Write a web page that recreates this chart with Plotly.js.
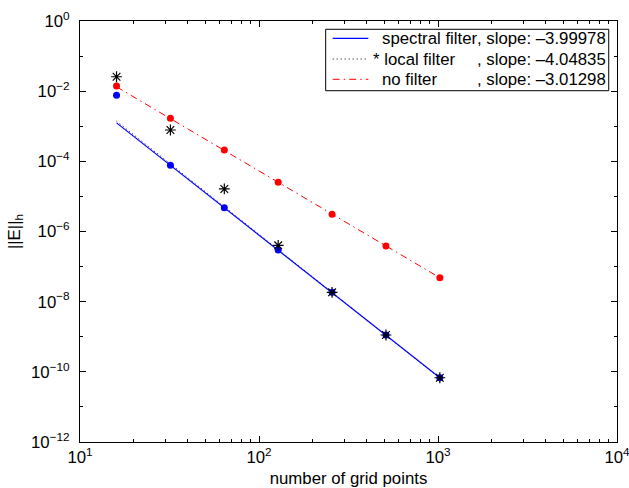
<!DOCTYPE html>
<html><head><meta charset="utf-8">
<script src="https://cdn.plot.ly/plotly-3.0.1.min.js"></script>
<style>html,body{margin:0;padding:0;background:#fff}#chart{width:629px;height:488px}</style>
</head><body><div id="chart"></div>
<script>
// ---- data ----
const gridPoints   = [16, 32, 64, 128, 256, 512, 1024];
const spectralErr  = [7.62e-3, 7.71e-5, 4.76e-6, 2.96e-7, 1.85e-8, 1.12e-9, 6.79e-11];
const localErr     = [2.58e-2, 7.82e-4, 1.63e-5, 4.04e-7, 1.85e-8, 1.12e-9, 6.79e-11];
const noFilterErr  = [1.40e-2, 1.68e-3, 2.10e-4, 2.52e-5, 3.09e-6, 3.85e-7, 4.81e-8];
const fitX         = [16, 1024];
const spectralFit  = [1.25e-3, 6.79e-11];
const localFit     = [1.40e-3, 6.60e-11];
const noFilterFit  = [1.33e-2, 4.81e-8];
const legendNames  = ['spectral filter', '* local filter', 'no filter'];
const legendSlopes = [', slope: \u20133.99978', ', slope: \u20134.04835', ', slope: \u20133.01298'];
const xTickVals = [10, 100, 1000, 10000];
const xTickText = ['10<sup>1</sup>', '10<sup>2</sup>', '10<sup>3</sup>', '10<sup>4</sup>'];
const yTickVals = [1, 1e-2, 1e-4, 1e-6, 1e-8, 1e-10, 1e-12];
const yTickText = ['10<sup>0</sup>', '10<sup>\u22122</sup>', '10<sup>\u22124</sup>', '10<sup>\u22126</sup>',
                   '10<sup>\u22128</sup>', '10<sup>\u221210</sup>', '10<sup>\u221212</sup>'];
const xMinor = [20,30,40,50,60,70,80,90,200,300,400,500,600,700,800,900,2000,3000,4000,5000,6000,7000,8000,9000];
const yMinor = [1e-1, 1e-3, 1e-5, 1e-7, 1e-9, 1e-11];

const FONT = 'Liberation Sans, Arial, Helvetica, sans-serif';
const FS = 16.8;

const traces = [
  {x: fitX, y: noFilterFit, mode: 'lines', line: {color: '#ff0000', width: 1, dash: '7px,4px,1.5px,4px'}, hoverinfo: 'skip'},
  {x: gridPoints, y: noFilterErr, mode: 'markers', marker: {color: '#ff0000', size: 7}},
  {x: fitX, y: localFit, mode: 'lines', line: {color: '#000000', width: 1, dash: '1px,3px'}},
  {x: fitX, y: spectralFit, mode: 'lines', line: {color: '#0000ff', width: 1.2}},
  {x: gridPoints, y: spectralErr, mode: 'markers', marker: {color: '#0000ff', size: 7}},
  {x: gridPoints, y: localErr, mode: 'markers', marker: {symbol: 'asterisk-open', color: '#000', size: 9, line: {color: '#000', width: 1.2}}}
];

// manual MATLAB-style legend (box, samples, text)
const L = {x0: 0.4575, x1: 0.9846, y0: 0.8344, y1: 0.9803};
const rowY = [0.9589, 0.9097, 0.8615];
const sampleX = [0.4706, 0.5369];
const shapes = [
  {type: 'rect', xref: 'paper', yref: 'paper', x0: L.x0, x1: L.x1, y0: L.y0, y1: L.y1,
   line: {color: '#000', width: 1}, fillcolor: '#fff', layer: 'above'},
  {type: 'line', xref: 'paper', yref: 'paper', x0: sampleX[0], x1: sampleX[1], y0: rowY[0], y1: rowY[0],
   line: {color: '#0000ff', width: 1.2}, layer: 'above'},
  {type: 'line', xref: 'paper', yref: 'paper', x0: sampleX[0], x1: sampleX[1], y0: rowY[1], y1: rowY[1],
   line: {color: '#000', width: 1, dash: '1px,3px'}, layer: 'above'},
  {type: 'line', xref: 'paper', yref: 'paper', x0: sampleX[0], x1: sampleX[1], y0: rowY[2], y1: rowY[2],
   line: {color: '#ff0000', width: 1, dash: '7px,4px,1.5px,4px'}, layer: 'above'}
];
const annotations = [];
const nameX = [0.5580, 0.5418, 0.5580];
for (let i = 0; i < 3; i++) {
  annotations.push({xref: 'paper', yref: 'paper', x: nameX[i], y: rowY[i], xanchor: 'left', yanchor: 'middle',
    text: legendNames[i], showarrow: false, font: {family: FONT, size: FS, color: '#000'}});
  annotations.push({xref: 'paper', yref: 'paper', x: 0.9830, y: rowY[i], xanchor: 'right', yanchor: 'middle',
    text: legendSlopes[i], showarrow: false, font: {family: FONT, size: FS, color: '#000'}});
}

const axisCommon = {
  type: 'log', showline: true, linecolor: '#000', linewidth: 1, mirror: 'allticks',
  ticks: 'inside', ticklen: 6, tickwidth: 1, tickcolor: '#000', showgrid: false, zeroline: false,
  ticklabeloverflow: 'allow',
  tickfont: {family: FONT, size: FS, color: '#000'}
};

const layout = {
  width: 629, height: 488,
  margin: {l: 80, r: 12, t: 21, b: 46},
  paper_bgcolor: '#fff', plot_bgcolor: '#fff',
  showlegend: false,
  font: {family: FONT, size: FS, color: '#000'},
  xaxis: Object.assign({}, axisCommon, {
    range: [1, 4], tickmode: 'array', tickvals: xTickVals, ticktext: xTickText,
    minor: {tickmode: 'array', tickvals: xMinor, ticks: 'inside', ticklen: 3, tickcolor: '#000', showgrid: false},
    title: {text: 'number of grid points', font: {family: FONT, size: FS, color: '#000'}, standoff: 6}
  }),
  yaxis: Object.assign({}, axisCommon, {
    range: [-12, 0], tickmode: 'array', tickvals: yTickVals, ticktext: yTickText,
    minor: {tickmode: 'array', tickvals: yMinor, ticks: 'inside', ticklen: 3, tickcolor: '#000', showgrid: false},
    ticklabelstandoff: 6,
    title: {text: '||E||<sub>h</sub>', font: {family: FONT, size: FS, color: '#000'}, standoff: 6}
  }),
  shapes: shapes,
  annotations: annotations
};

Plotly.newPlot('chart', traces, layout, {displayModeBar: false, staticPlot: true});
</script>
</body></html>
